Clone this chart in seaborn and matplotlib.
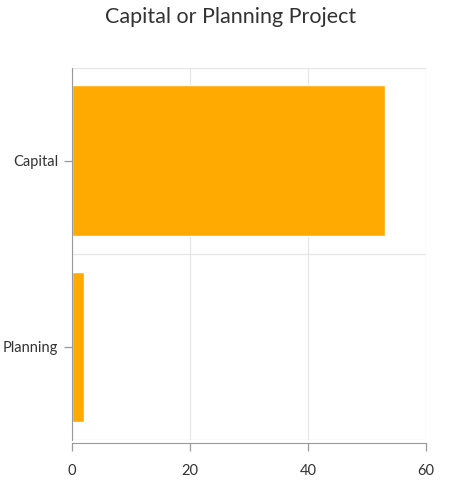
import matplotlib
matplotlib.use("Agg")
import matplotlib.pyplot as plt
import seaborn as sns
import pandas as pd

# chart data
categories = ["Capital", "Planning"]
counts = [53, 2]
x_ticks = [0, 20, 40, 60]

df = pd.DataFrame({"category": categories, "count": counts})

sns.set_style("white")
plt.rcParams["font.family"] = ["Lato", "DejaVu Sans"]

fig = plt.figure(figsize=(4.62, 4.93), dpi=100)
ax = fig.add_axes([0.1558, 0.1075, 0.7662, 0.755])

sns.barplot(data=df, x="count", y="category", orient="h", color="#FFAA00",
            saturation=1, width=0.81, ax=ax)

ax.set_xlim(0, 60)
ax.set_ylim(1.5, -0.5)
ax.set_xticks(x_ticks)
ax.set_xlabel("")
ax.set_ylabel("")

# grid: vertical at x ticks, horizontal at band boundaries
ax.set_yticks([-0.5, 0.5, 1.5], minor=True)
ax.grid(True, axis="x", which="major", color="#e6e6e6", linewidth=0.9)
ax.grid(True, axis="y", which="minor", color="#e6e6e6", linewidth=0.9)
ax.tick_params(axis="y", which="minor", length=0)
ax.set_axisbelow(True)

for side in ["top", "right"]:
    ax.spines[side].set_visible(False)
ax.spines["left"].set_color("#9a9a9a")
ax.spines["bottom"].set_color("#9a9a9a")
ax.spines["bottom"].set_position(("outward", 2))

ax.tick_params(axis="both", which="major", colors="#9a9a9a", labelcolor="#333333",
               labelsize=10.5, length=6, width=0.9, bottom=True, left=True)
ax.tick_params(axis="x", pad=9)
ax.tick_params(axis="y", pad=4)

fig.text(0.5, 0.965, "Capital or Planning Project", ha="center", va="center",
         fontsize=15.5, color="#333333")

fig.savefig("out.png", dpi=100)
plt.close(fig)
